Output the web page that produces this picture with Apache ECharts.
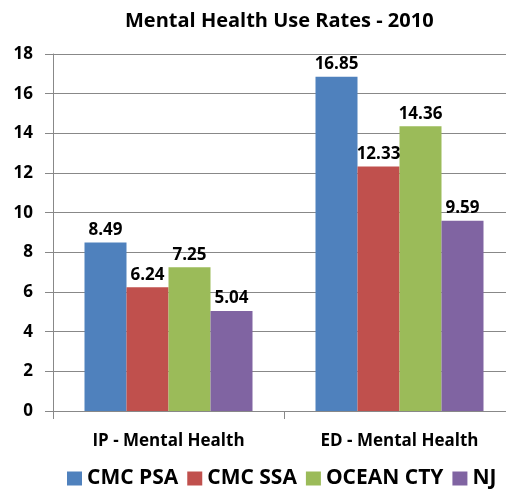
<!DOCTYPE html>
<html>
<head>
<meta charset="utf-8">
<script src="https://cdn.jsdelivr.net/npm/echarts@6/dist/echarts.min.js"></script>
<style>
  html, body { margin: 0; padding: 0; background: #fff; }
  #chart { width: 506px; height: 495px; }
</style>
</head>
<body>
<div id="chart"></div>
<script>
var categories = ['IP - Mental Health', 'ED - Mental Health'];
var seriesNames = ['CMC PSA', 'CMC SSA', 'OCEAN CTY', 'NJ'];
var cmcPsa = [8.49, 16.85];
var cmcSsa = [6.24, 12.33];
var oceanCty = [7.25, 14.36];
var nj = [5.04, 9.59];
var colors = ['#4F81BD', '#C0504D', '#9BBB59', '#8064A2'];

var fontFam = '"Open Sans", sans-serif';
var values = [cmcPsa, cmcSsa, oceanCty, nj];

var chart = echarts.init(document.getElementById('chart'));

var series = seriesNames.map(function (name, i) {
    return {
        name: name,
        type: 'bar',
        data: values[i],
        barWidth: 42,
        barGap: '0%',
        itemStyle: { color: colors[i] },
        label: {
            show: true,
            position: 'top',
            distance: 4,
            color: '#000',
            fontWeight: 'bold',
            fontSize: 17,
            fontFamily: fontFam,
            formatter: function (p) { return p.value.toFixed(2); }
        }
    };
});

chart.setOption({
    animation: false,
    title: {
        text: 'Mental Health Use Rates - 2010',
        left: 120,
        top: 6,
        textStyle: { fontSize: 20, fontWeight: 'bold', color: '#000', fontFamily: fontFam }
    },
    legend: {
        bottom: 1,
        left: 62,
        width: 520,
        itemWidth: 15,
        itemHeight: 14,
        itemGap: 9,
        icon: 'rect',
        textStyle: { fontSize: 21, fontWeight: 'bold', color: '#000', fontFamily: fontFam }
    },
    grid: { left: 53, width: 462, top: 54, bottom: 84, outerBoundsMode: 'none' },
    xAxis: {
        type: 'category',
        data: categories,
        axisLine: { lineStyle: { color: '#888' } },
        axisTick: { show: true, length: 8, lineStyle: { color: '#888' } },
        axisLabel: {
            color: '#000', fontSize: 17, fontWeight: 'bold', fontFamily: fontFam, margin: 22
        }
    },
    yAxis: {
        type: 'value',
        min: 0,
        max: 18,
        interval: 2,
        axisLine: { show: true, lineStyle: { color: '#888' } },
        axisTick: { show: true, length: 8, lineStyle: { color: '#888' } },
        splitLine: { lineStyle: { color: '#888' } },
        axisLabel: {
            color: '#000', fontSize: 17, fontWeight: 'bold', fontFamily: fontFam, margin: 20
        }
    },
    series: series
});
</script>
</body>
</html>
